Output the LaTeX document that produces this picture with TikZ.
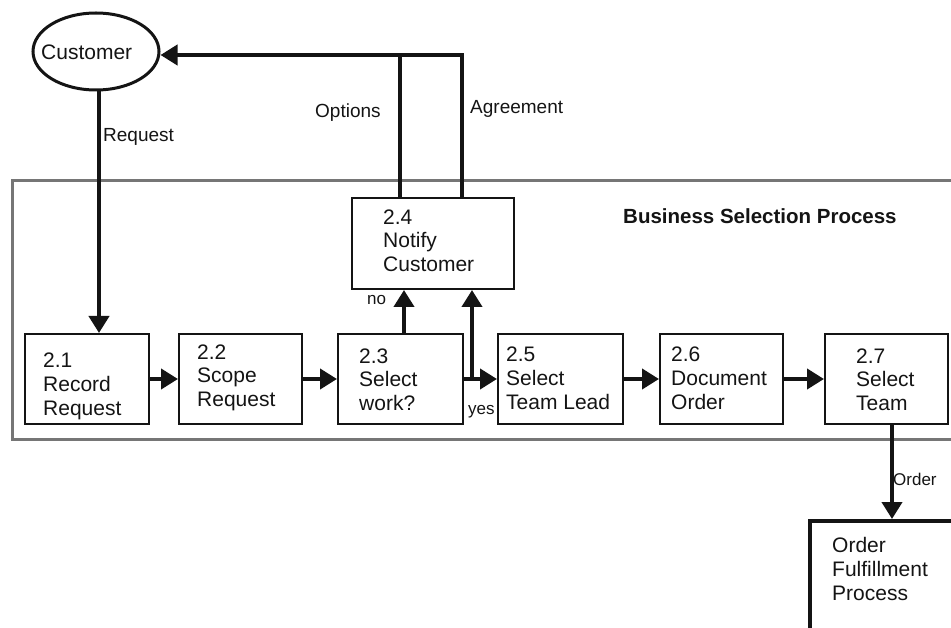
\documentclass[tikz,border=0pt]{standalone}
\usepackage{fontspec}
\setmainfont{Liberation Sans}
\usetikzlibrary{arrows.meta,shapes.geometric,calc}

\definecolor{ink}{HTML}{141414}
\definecolor{framegray}{HTML}{767676}

\tikzset{
  procbox/.style={draw=ink, line width=2pt, rectangle, inner sep=0pt,
                  minimum width=#1, minimum height=90pt},
  % multi-line texts are placed by the baseline of their last line
  boxtext/.style={anchor=base west, inner sep=0pt, align=left, text=ink,
                  font=\fontsize{21}{23.8}\selectfont},
  flowlabel/.style={anchor=base west, inner sep=0pt, text=ink,
                    font=\fontsize{19}{22}\selectfont},
  smalllabel/.style={anchor=base west, inner sep=0pt, text=ink,
                     font=\fontsize{17}{20}\selectfont},
  flow/.style={draw=ink, line width=4pt,
               -{Triangle[length=17pt,width=20pt]}},
  link/.style={draw=ink, line width=4pt}
}

\begin{document}
\begin{tikzpicture}[x=1pt, y=-1pt]
  \useasboundingbox (0,0) rectangle (951,628);
  \clip (0,0) rectangle (951,628);

  % enclosing process frame
  \draw[framegray, line width=3pt] (12,181) rectangle (990,439);
  \node[boxtext, font=\fontsize{20.5}{24}\selectfont\bfseries]
    (bsp) at (623,224) {Business Selection Process};

  % external entity
  \node[ellipse, draw=ink, line width=3pt, minimum width=126pt,
        minimum height=77pt, inner sep=0pt] (cust) at (96,51.5) {};
  \node[boxtext] (custtext) at (41,59.3) {Customer};

  % process steps
  \node[procbox=124pt] (b21) at (87,379) {};
  \node[procbox=123pt] (b22) at (240.5,379) {};
  \node[procbox=125pt] (b23) at (400.5,379) {};
  \node[procbox=162pt, minimum height=91pt] (b24) at (433,243.5) {};
  \node[procbox=125pt] (b25) at (560.5,379) {};
  \node[procbox=123pt] (b26) at (721.5,379) {};
  \node[procbox=123pt] (b27) at (886.5,379) {};
  \node[draw=ink, line width=3.5pt, rectangle, anchor=north west,
        minimum width=300pt, minimum height=200pt] (ofp) at (808,519) {};

  \node[boxtext] (t21) at (43,415)    {2.1\\Record\\Request};
  \node[boxtext] (t22) at (197,406.7) {2.2\\Scope\\Request};
  \node[boxtext] (t23) at (359,410.7) {2.3\\Select\\work?};
  \node[boxtext] (t24) at (383,271.7) {2.4\\Notify\\Customer};
  \node[boxtext] (t25) at (506,409.3) {2.5\\Select\\Team Lead};
  \node[boxtext] (t26) at (671,409.3) {2.6\\Document\\Order};
  \node[boxtext] (t27) at (856,410.7) {2.7\\Select\\Team};
  \node[boxtext] (tofp) at (832,600)  {Order\\Fulfillment\\Process};

  % data flows
  \draw[flow] ([xshift=3pt]cust.south) -- ([xshift=12pt]b21.north);
  \draw[flow] (b21.east) -- (b22.west);
  \draw[flow] (b22.east) -- (b23.west);
  \draw[flow] (b23.east) -- (b25.west);
  \coordinate (fork) at (472,379);
  \draw[flow] (fork) -- (fork |- b24.south);
  \draw[flow] ([xshift=3.5pt]b23.north) -- ([xshift=3.5pt]b23.north |- b24.south);
  \draw[flow] (b25.east) -- (b26.west);
  \draw[flow] (b26.east) -- (b27.west);
  \draw[flow] ([xshift=5.5pt]b27.south) -- ([xshift=5.5pt]b27.south |- ofp.north);

  \coordinate (bend) at (462,55);
  \draw[link] ([xshift=-33pt]b24.north) -- ([xshift=-33pt]b24.north |- bend);
  \draw[flow, line join=miter] ([xshift=29pt]b24.north) -- (bend) -- (bend -| cust.east);

  % flow labels
  \node[flowlabel] (lreq) at (103,142) {Request};
  \node[flowlabel] (lopt) at (315,118) {Options};
  \node[flowlabel] (lagr) at (470,114) {Agreement};
  \node[smalllabel] (lno) at (367,305) {no};
  \node[smalllabel] (lyes) at (468,414) {yes};
  \node[smalllabel] (lord) at (893,485) {Order};
\end{tikzpicture}
\end{document}
